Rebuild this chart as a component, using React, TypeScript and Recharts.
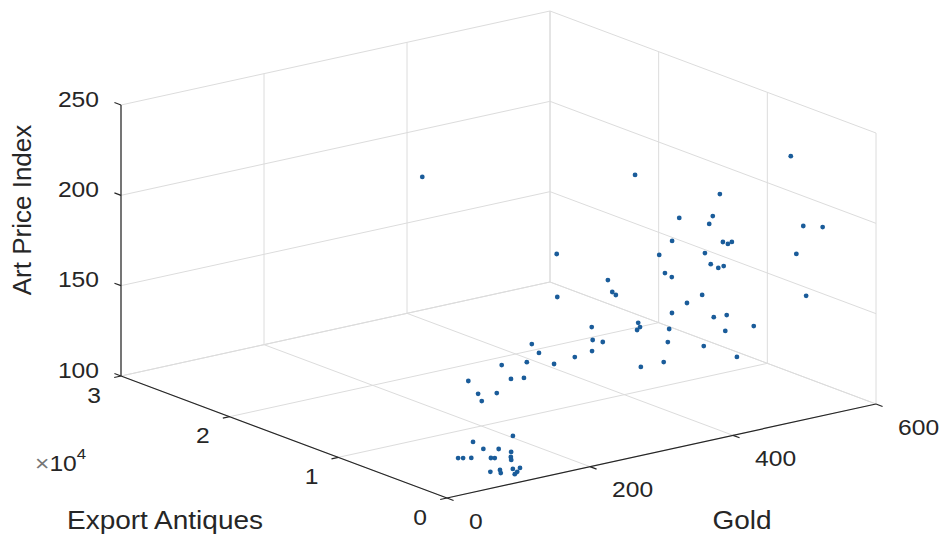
import React from 'react';
import { ScatterChart, Scatter, XAxis, YAxis, ReferenceLine } from 'recharts';

// one entry per observation
const gold = [
  156, 82, 101, 127, 52, 59, 75, 107, 117, 149, 144, 140, 88, 106, 98, 124, 121, 134, 113,
  362, 427, 425, 430, 301, 377, 382, 311, 367, 352, 268, 294, 323, 417, 235, 281, 290, 235, 252, 231,
  491, 530, 520, 427, 502, 510, 515, 453, 450, 455, 405, 518, 497, 484, 473,
  572, 564, 545, 540, 553, 571, 550, 557, 558, 557, 534, 533, 539, 542,
  557, 521, 519, 528, 543, 526, 505, 524, 449, 353,
];
const exportAntiques = [
  4200, 3000, 3300, 3600, 2400, 2400, 2700, 3000, 3300, 3900, 3600, 3300, 1800, 2100, 1500, 2100, 1500, 2100, 1200,
  10500, 10500, 10200, 10800, 12000, 11400, 10800, 12000, 10800, 11400, 12600, 12000, 11400, 9600, 13500, 12600, 12000, 12600, 12000, 12000,
  15000, 13500, 13500, 18000, 13500, 13500, 13200, 15000, 14400, 14400, 16500, 12000, 12000, 11400, 10800,
  6000, 12000, 11400, 11400, 3600, 3000, 10800, 10800, 10500, 4500, 11400, 10800, 10500, 10200,
  3600, 10800, 9600, 9000, 7500, 9000, 9600, 7800, 9600, 25500,
];
const artPriceIndex = [
  111.4, 117.2, 111.0, 108.0, 112.2, 111.6, 109.6, 106.1, 104.5, 103.8, 102.1, 101.5, 102.8, 101.6, 101.9, 100.6, 100.6, 100.3, 100.7,
  139.6, 136.3, 134.8, 131.4, 132.1, 129.1, 128.9, 126.3, 125.2, 121.8, 122.0, 122.7, 120.5, 114.8, 114.0, 113.2, 114.3, 108.9, 109.2, 106.6,
  202.5, 178.7, 166.8, 157.5, 160.6, 149.9, 147.9, 147.6, 142.6, 140.5, 139.0, 136.0, 132.3, 125.9, 121.0,
  226.1, 192.3, 183.1, 179.2, 194.5, 193.7, 169.7, 168.0, 169.7, 176.7, 163.6, 158.9, 157.0, 158.4,
  155.5, 142.9, 133.5, 135.2, 131.2, 126.6, 118.7, 115.1, 114.7, 189.7,
];

const goldTicks = [0, 200, 400, 600];
const exportTicks = [0, 10000, 20000, 30000];
const exportTickLabels = ['0', '1', '2', '3'];
const artTicks = [100, 150, 200, 250];

const W = 941;
const H = 537;
const GOLD_MAX = 600;
const EXP_MAX = 30000;
const ART_MIN = 100;
const ART_MAX = 250;

// fixed 3D view: front corner of the box and how far each full axis runs on the view plane
const ORIGIN = [447, 498];
const GOLD_DIR = [429, -94];
const EXP_DIR = [-326, -122];
const ART_DIR = [0, -271];

const project = (g: number, e: number, a: number) => {
  const u = g / GOLD_MAX;
  const v = e / EXP_MAX;
  const w = (a - ART_MIN) / (ART_MAX - ART_MIN);
  return {
    sx: ORIGIN[0] + u * GOLD_DIR[0] + v * EXP_DIR[0] + w * ART_DIR[0],
    sy: ORIGIN[1] + u * GOLD_DIR[1] + v * EXP_DIR[1] + w * ART_DIR[1],
  };
};

const unit = (d: number[]) => {
  const n = Math.hypot(d[0], d[1]);
  return [d[0] / n, d[1] / n];
};

type Pt = { sx: number; sy: number };
const shift = (p: Pt, d: number[], len: number): Pt => ({ sx: p.sx + d[0] * len, sy: p.sy + d[1] * len });

const gridSegs: [Pt, Pt][] = [];
goldTicks.forEach(g => {
  gridSegs.push([project(g, 0, ART_MIN), project(g, EXP_MAX, ART_MIN)]);
  gridSegs.push([project(g, EXP_MAX, ART_MIN), project(g, EXP_MAX, ART_MAX)]);
});
exportTicks.forEach(e => {
  gridSegs.push([project(0, e, ART_MIN), project(GOLD_MAX, e, ART_MIN)]);
  gridSegs.push([project(GOLD_MAX, e, ART_MIN), project(GOLD_MAX, e, ART_MAX)]);
});
artTicks.forEach(a => {
  gridSegs.push([project(0, EXP_MAX, a), project(GOLD_MAX, EXP_MAX, a)]);
  gridSegs.push([project(GOLD_MAX, 0, a), project(GOLD_MAX, EXP_MAX, a)]);
});

const uGold = unit(GOLD_DIR);
const uExp = unit(EXP_DIR);
const TICK = 7;

const axisSegs: [Pt, Pt][] = [
  [project(0, EXP_MAX, ART_MIN), project(0, EXP_MAX, ART_MAX)],
  [project(0, 0, ART_MIN), project(0, EXP_MAX, ART_MIN)],
  [project(0, 0, ART_MIN), project(GOLD_MAX, 0, ART_MIN)],
];
artTicks.forEach(a => {
  const p = project(0, EXP_MAX, a);
  axisSegs.push([p, shift(p, uExp, TICK)]);
});
exportTicks.forEach(e => {
  const p = project(0, e, ART_MIN);
  axisSegs.push([p, shift(p, uGold, -TICK)]);
});
goldTicks.forEach(g => {
  const p = project(g, 0, ART_MIN);
  axisSegs.push([p, shift(p, uExp, -TICK)]);
});

const points = gold.map((g, i) => ({
  ...project(g, exportAntiques[i], artPriceIndex[i]),
  gold: g,
  exportAntiques: exportAntiques[i],
  artPriceIndex: artPriceIndex[i],
}));

const artLabels = artTicks.map(a => {
  const p = project(0, EXP_MAX, a);
  return { sx: p.sx - 22, sy: p.sy - 6, text: String(a), anchor: 'end' };
});
const exportLabels = exportTicks.map((e, i) => {
  const p = project(0, e, ART_MIN);
  return { sx: p.sx - 20, sy: p.sy + 19, text: exportTickLabels[i], anchor: 'end' };
});
const goldLabels = goldTicks.map(g => {
  const p = project(g, 0, ART_MIN);
  return { sx: p.sx + 22, sy: p.sy + 23, text: String(g), anchor: 'start' };
});
const axisTitles = [
  { sx: 165, sy: 521, text: 'Export Antiques', anchor: 'middle' },
  { sx: 742, sy: 521, text: 'Gold', anchor: 'middle' },
];

const FONT = '"Liberation Sans", Arial, Helvetica, sans-serif';
const INK = '#262626';
const STRETCH = 1.12;

const TextMark = (size: number) => (props: any) => {
  const { cx, cy, payload } = props;
  return (
    <text
      transform={`translate(${cx},${cy}) scale(${STRETCH},1)`}
      textAnchor={payload.anchor}
      dominantBaseline="central"
      fontFamily={FONT}
      fontSize={size}
      fill={INK}
    >
      {payload.text}
    </text>
  );
};

const ExponentMark = (props: any) => (
  <text
    transform={`translate(${props.cx},${props.cy}) scale(${STRETCH},1)`}
    dominantBaseline="central"
    fontFamily={FONT}
    fontSize={22}
    fill={INK}
  >
    <tspan fill="#777">×</tspan>10<tspan fontSize={15} dy={-10}>4</tspan>
  </text>
);

const VerticalTitle = (props: any) => (
  <text
    transform={`translate(${props.cx},${props.cy}) rotate(-90)`}
    textAnchor="middle"
    dominantBaseline="central"
    fontFamily={FONT}
    fontSize={26}
    fill={INK}
  >
    Art Price Index
  </text>
);

const Dot = (props: any) => <circle cx={props.cx} cy={props.cy} r={2.4} fill="#1a5c9a" />;

export default function App() {
  return (
    <div style={{ position: 'absolute', left: 0, top: 0, width: W, height: H, background: '#fff' }}>
      <ScatterChart width={W} height={H} margin={{ top: 0, right: 0, bottom: 0, left: 0 }}>
        <XAxis type="number" dataKey="sx" domain={[0, W]} hide allowDataOverflow />
        <YAxis type="number" dataKey="sy" domain={[0, H]} reversed hide allowDataOverflow />
        {gridSegs.map((s, i) => (
          <ReferenceLine
            key={`g${i}`}
            segment={[{ x: s[0].sx, y: s[0].sy }, { x: s[1].sx, y: s[1].sy }]}
            stroke="#dcdcdc"
            strokeWidth={1}
            ifOverflow="visible"
          />
        ))}
        {axisSegs.map((s, i) => (
          <ReferenceLine
            key={`a${i}`}
            segment={[{ x: s[0].sx, y: s[0].sy }, { x: s[1].sx, y: s[1].sy }]}
            stroke={INK}
            strokeWidth={1.2}
            ifOverflow="visible"
          />
        ))}
        <Scatter data={points} shape={Dot} isAnimationActive={false} />
        <Scatter data={artLabels} shape={TextMark(22)} isAnimationActive={false} />
        <Scatter data={exportLabels} shape={TextMark(22)} isAnimationActive={false} />
        <Scatter data={goldLabels} shape={TextMark(22)} isAnimationActive={false} />
        <Scatter data={axisTitles} shape={TextMark(25)} isAnimationActive={false} />
        <Scatter data={[{ sx: 35, sy: 463 }]} shape={ExponentMark} isAnimationActive={false} />
        <Scatter data={[{ sx: 22, sy: 210 }]} shape={VerticalTitle} isAnimationActive={false} />
      </ScatterChart>
    </div>
  );
}
